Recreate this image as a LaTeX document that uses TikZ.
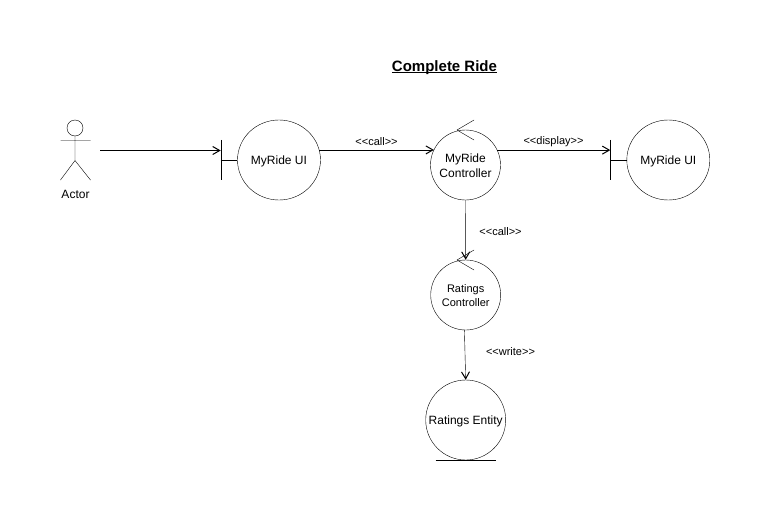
\documentclass[tikz,border=0pt]{standalone}
\usepackage{fontspec}
\setmainfont{Liberation Sans}
\usetikzlibrary{arrows.meta,shapes.geometric}
\newcommand{\ltlt}{<\kern0pt<}
\newcommand{\gtgt}{>\kern0pt>}
\newcommand{\nudge}[1]{\raisebox{-0.9pt}[\height][\depth]{#1}}
\newcommand{\myul}[1]{\setbox0\hbox{#1}\rlap{\rule[-1.8pt]{\wd0}{1.1pt}}\box0}
\tikzset{
  x=1pt,y=-1pt,
  line width=1pt,
  flow/.style={-{Straight Barb[length=7pt,width=8pt,line width=1pt]}},
  wide/.style={draw,ellipse,inner sep=0pt,minimum width=83pt,minimum height=80pt,align=center,font=\fontsize{12}{15}\selectfont},
  lbl/.style={inner sep=0pt,font=\fontsize{11}{13}\selectfont},
  bar/.style={inner sep=0pt,minimum width=0pt,minimum height=40pt}
}
\begin{document}
\begin{tikzpicture}
\useasboundingbox (0,0) rectangle (771,511);
\node[inner sep=0pt,anchor=base,font=\fontsize{15}{18}\selectfont\bfseries] (title) at (444.5,71) {\myul{Complete Ride}};
% actor
\node[draw,circle,minimum size=16pt,inner sep=0pt] (head) at (75,128) {};
\coordinate (hip) at (75,160.5);
\coordinate (armL) at (60.5,140.5);
\coordinate (armR) at (90.5,140.5);
\coordinate (footL) at (60.5,180);
\coordinate (footR) at (90.5,180);
\draw (head.south) -- (hip) (armL) -- (armR) (footL) -- (hip) -- (footR);
\node[inner sep=0pt,font=\fontsize{12}{15}\selectfont] (actor) at (75.5,194.3) {Actor};
\coordinate (actorout) at (100,150.5);
% boundary 1
\node[wide] (ui) at (279,160) {\nudge{MyRide UI}};
\node[bar] (uibar) at (220.7,160) {};
\draw (uibar.north) -- (uibar.south) (uibar.center) -- (ui.west);
% controller
\node[draw,circle,minimum size=70pt,inner sep=0pt,align=center,font=\fontsize{12}{15}\selectfont] (ctrl) at (465.5,165) {\nudge{MyRide}\\\nudge{Controller}};
\coordinate (ctrlA) at (474,120);
\coordinate (ctrlT) at (457,130);
\coordinate (ctrlB) at (474,140);
\draw (ctrlA) -- (ctrlT) -- (ctrlB);
% boundary 2
\node[wide] (disp) at (668.3,160) {\nudge{MyRide UI}};
\node[bar] (dispbar) at (610.3,160) {};
\draw (dispbar.north) -- (dispbar.south) (dispbar.center) -- (disp.west);
% ratings controller
\node[draw,circle,minimum size=70pt,inner sep=0pt,align=center,font=\fontsize{11}{14}\selectfont] (rat) at (465.7,295) {\nudge{Ratings}\\\nudge{Controller}};
\coordinate (ratA) at (474,250);
\coordinate (ratT) at (457,260);
\coordinate (ratB) at (474,270);
\draw (ratA) -- (ratT) -- (ratB);
% entity
\node[draw,circle,minimum size=80pt,inner sep=0pt,font=\fontsize{12}{15}\selectfont] (ent) at (465.7,420) {\nudge{Ratings Entity}};
\coordinate (entL) at (435.7,460);
\coordinate (entR) at (495.7,460);
\draw (entL) -- (entR);
% connectors
\draw[flow] (actorout) -- (actorout -| uibar);
\draw[flow] (ui.14) -- (ui.14 -| ctrl.154.6);
\draw[flow] (ctrl.25.4) -- (ctrl.25.4 -| dispbar);
\draw[flow] (ctrl.south) -- (rat.north);
\draw[flow] ([xshift=-1.3pt]rat.south) -- (ent.north);
% labels
\node[lbl] (l1) at (376.5,142) {\ltlt call\gtgt};
\node[lbl] (l2) at (553.5,142) {\ltlt display\gtgt};
\node[lbl] (l3) at (500.5,232) {\ltlt call\gtgt};
\node[lbl] (l4) at (510.5,352) {\ltlt write\gtgt};
\end{tikzpicture}
\end{document}
